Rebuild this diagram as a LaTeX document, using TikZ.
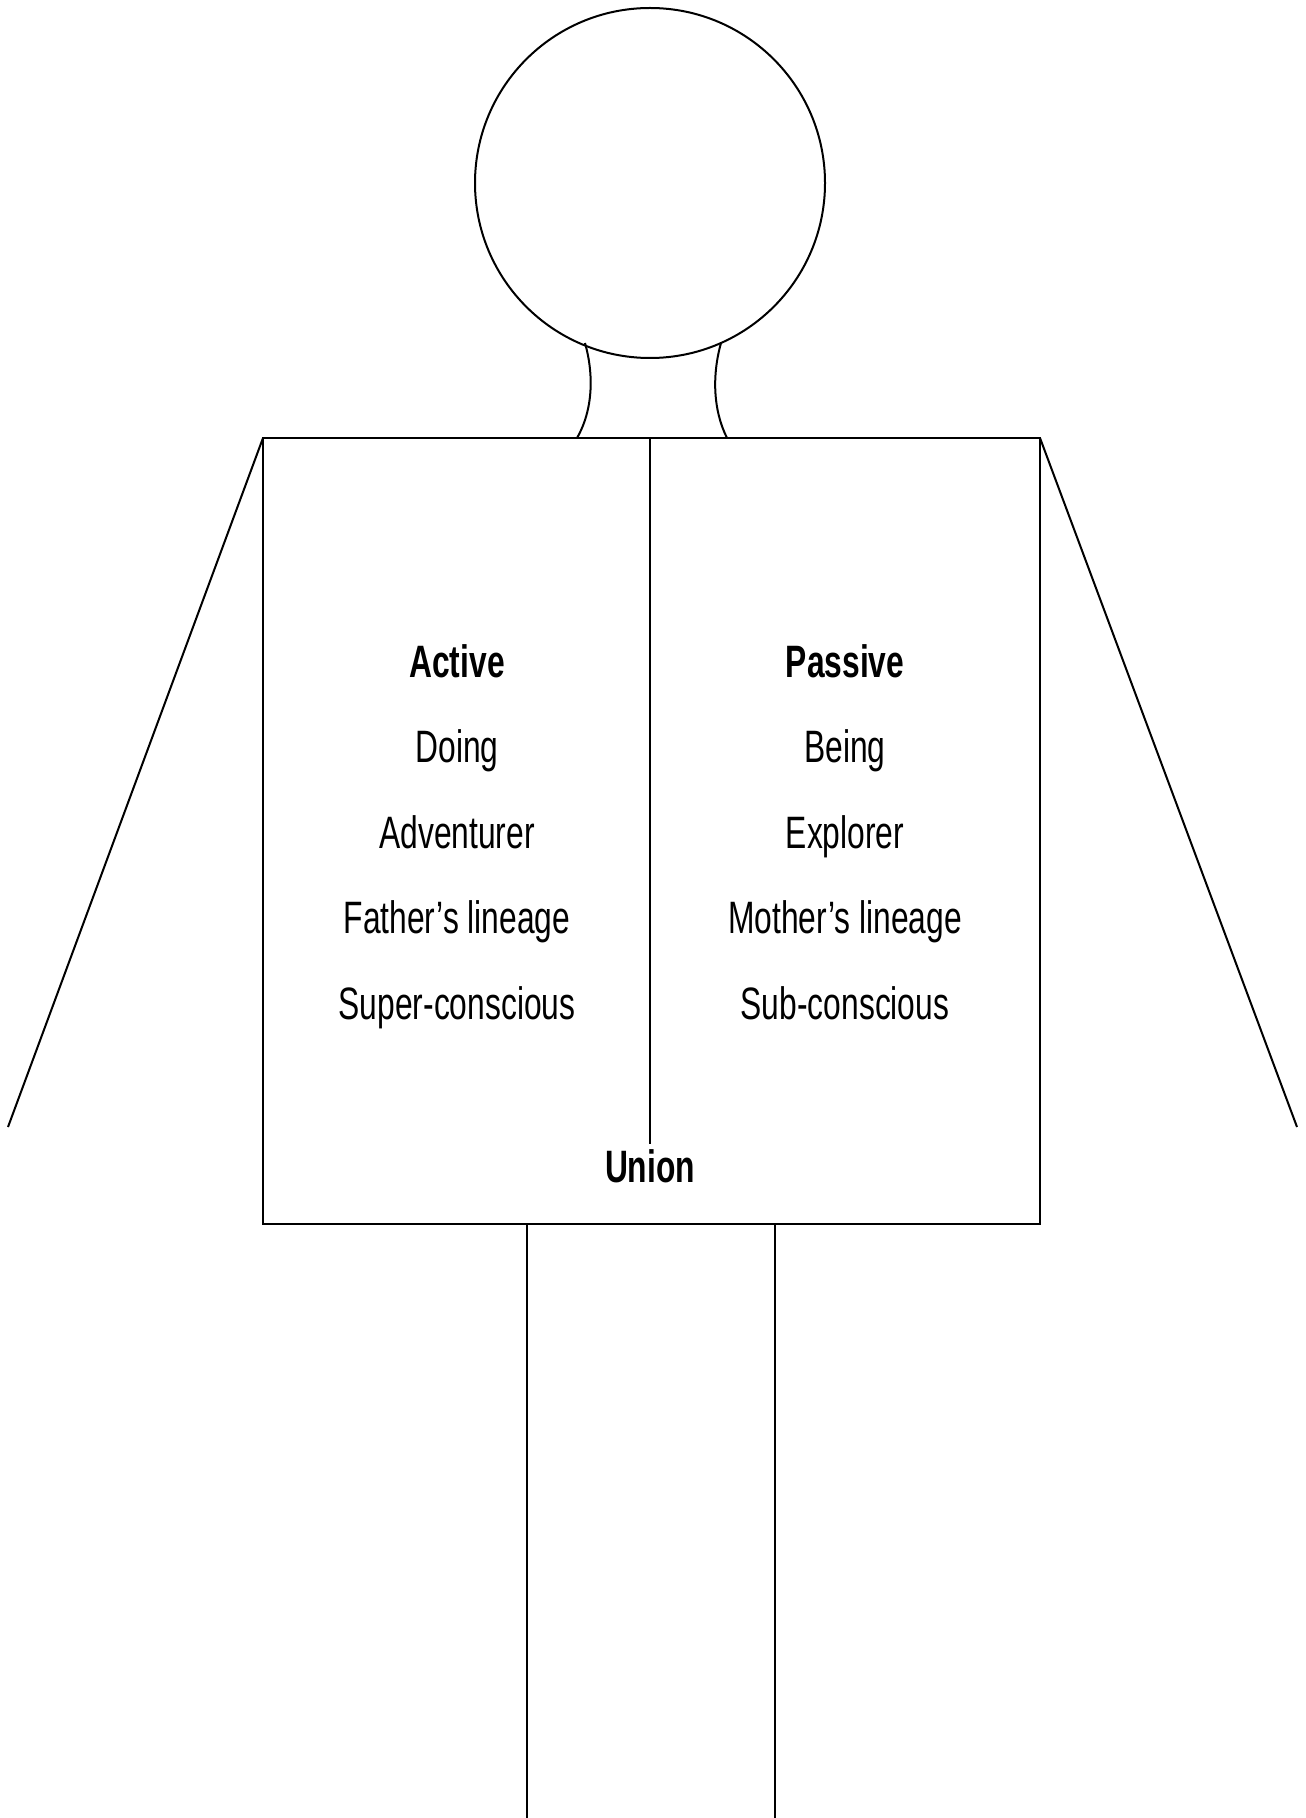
\documentclass[tikz,border=0pt]{standalone}
\usepackage{fontspec}
\setmainfont{Liberation Sans}[FakeStretch=0.7]
\begin{document}
\begin{tikzpicture}[x=0.5pt,y=-0.5pt,line width=1pt,
  lbl/.style={inner sep=0pt,anchor=base,font=\fontsize{22.7}{27}\selectfont},
  head/.style={lbl,font=\fontsize{22.7}{27}\selectfont\bfseries}]
\useasboundingbox (0,0) rectangle (1305,1818);
% head
\draw (650,183) circle[radius=175];
% neck
\draw (585,343) .. controls (594,375) and (593,410) .. (577,438);
\draw (721,343) .. controls (712,375) and (713,410) .. (727,438);
% body
\draw (263,438) rectangle (1040,1224);
\draw (650,438) -- (650,1144);
% arms
\draw (263,438) -- (8,1127);
\draw (1040,438) -- (1297,1127);
% legs
\draw (527,1224) -- (527,1818);
\draw (775,1224) -- (775,1818);
% texts
\node[head] (act) at (457,677) {Active};
\node[lbl] (doing) at (457,762) {Doing};
\node[lbl] (adv) at (457,848) {Adventurer};
\node[lbl] (fath) at (457,933) {Father’s lineage};
\node[lbl] (super) at (457,1019) {Super-conscious};
\node[head] (pas) at (845,677) {Passive};
\node[lbl] (being) at (845,762) {Being};
\node[lbl] (expl) at (845,848) {Explorer};
\node[lbl] (moth) at (845,933) {Mother’s lineage};
\node[lbl] (sub) at (845,1019) {Sub-conscious};
\node[head] (union) at (650,1182) {Union};
\end{tikzpicture}
\end{document}
